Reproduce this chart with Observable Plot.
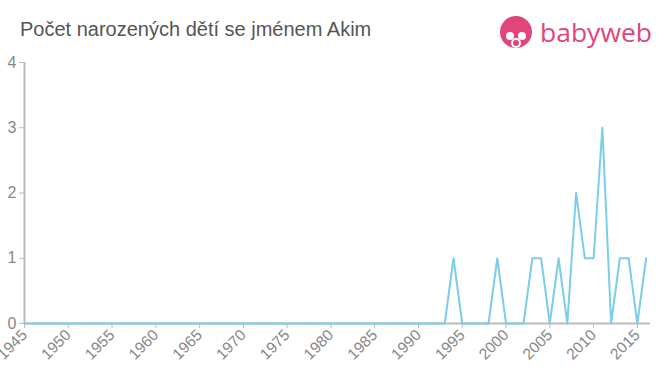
<!DOCTYPE html>
<html>
<head>
<meta charset="utf-8">
<script src="https://cdn.jsdelivr.net/npm/d3@7"></script>
<script src="https://cdn.jsdelivr.net/npm/@observablehq/plot@0.6"></script>
<style>
  html, body { margin: 0; padding: 0; background: #fff; }
  #wrap { position: relative; width: 660px; height: 375px; font-family: "Liberation Sans", Arial, sans-serif; }
  #title { position: absolute; left: 20px; top: 18px; font-size: 20px; line-height: 23px; color: #555; }
  #logo { position: absolute; left: 500px; top: 14px; }
  #chart { position: absolute; left: 0; top: 0; }
</style>
</head>
<body>
<div id="wrap">
  <div id="chart"></div>
  <div id="title">Počet narozených dětí se jménem Akim</div>
  <svg id="logo" width="160" height="40" viewBox="0 0 160 40">
    <circle cx="16" cy="18" r="16" fill="#e0457b"/>
    <circle cx="10" cy="22" r="4" fill="#fff"/>
    <circle cx="22" cy="22" r="4" fill="#fff"/>
    <circle cx="16" cy="29" r="5" fill="#fff"/>
    <circle cx="16" cy="29" r="3" fill="#e0457b"/>
    <text x="40" y="28" font-size="26" fill="#e0457b" font-family="'Open Sans', 'Liberation Sans', sans-serif" textLength="112" lengthAdjust="spacingAndGlyphs">babyweb</text>
  </svg>
</div>
<script>
const firstYear = 1945;
const values = [
  // 1945-1954
  0,0,0,0,0,0,0,0,0,0,
  // 1955-1964
  0,0,0,0,0,0,0,0,0,0,
  // 1965-1974
  0,0,0,0,0,0,0,0,0,0,
  // 1975-1984
  0,0,0,0,0,0,0,0,0,0,
  // 1985-1994
  0,0,0,0,0,0,0,0,0,1,
  // 1995-2004
  0,0,0,0,1,0,0,0,1,1,
  // 2005-2014
  0,1,0,2,1,1,3,0,1,1,
  // 2015-2016
  0,1
];
const xTicks = [1945,1950,1955,1960,1965,1970,1975,1980,1985,1990,1995,2000,2005,2010,2015];
const yTicks = [0,1,2,3,4];

const data = values.map((v, i) => ({year: firstYear + i, count: v}));

const chart = Plot.plot({
  width: 660,
  height: 375,
  marginLeft: 24,
  marginRight: 10,
  marginTop: 62,
  marginBottom: 52,
  style: {fontFamily: "'Liberation Sans', Arial, sans-serif", background: "transparent"},
  x: {domain: [1945, 2016.5]},
  y: {domain: [0, 4]},
  marks: [
    Plot.axisY({ticks: yTicks, tickFormat: d => String(d), tickSize: 5, tickPadding: 3, fontSize: 16, color: "#888", stroke: "#bbb", label: null}),
    Plot.axisX({ticks: xTicks, tickFormat: d => String(d), tickSize: 5, tickRotate: -45, tickPadding: 4, fontSize: 15.5, color: "#888", stroke: "#bbb", label: null}),
    Plot.ruleX([1945], {stroke: "#bbb", strokeWidth: 2}),
    Plot.ruleY([0], {stroke: "#bbb", strokeWidth: 2}),
    Plot.line(data, {x: "year", y: "count", stroke: "#7ccdea", strokeWidth: 2})
  ]
});
document.getElementById("chart").appendChild(chart);
</script>
</body>
</html>
